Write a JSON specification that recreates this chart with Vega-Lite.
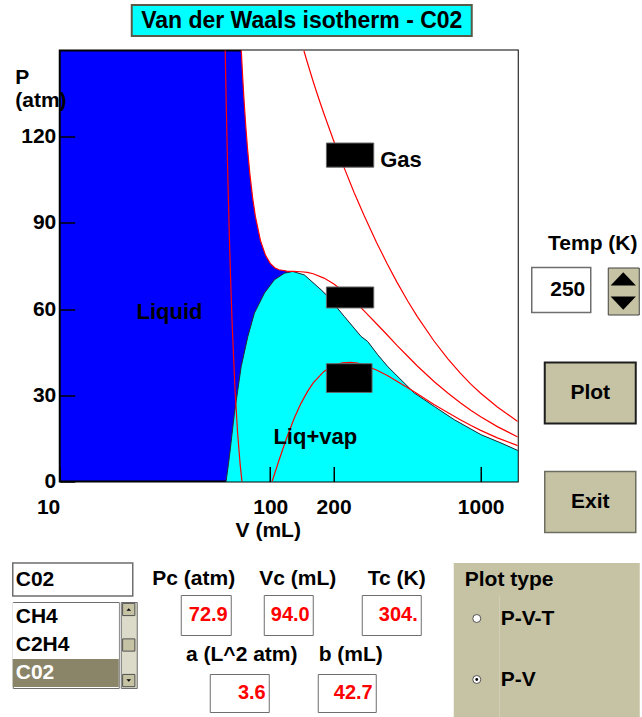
{
  "$schema": "https://vega.github.io/schema/vega-lite/v6.json",
  "padding": {"left": 11.75, "top": 4, "right": 2, "bottom": 0},
  "background": "#ffffff",
  "config": {
    "view": {"stroke": null},
    "text": {"font": "Liberation Sans", "fontWeight": "bold", "fontSize": 21, "color": "#000000"}
  },
  "datasets": {
    "iso": [
      {"T": 400, "V": 144.5, "P": 150.0}, {"T": 400, "V": 150, "P": 145.9}, {"T": 400, "V": 160, "P": 139.2}, {"T": 400, "V": 170, "P": 133.3}, {"T": 400, "V": 180, "P": 128.0}, {"T": 400, "V": 200, "P": 118.7}, {"T": 400, "V": 220, "P": 110.8}, {"T": 400, "V": 250, "P": 100.7}, {"T": 400, "V": 280, "P": 92.4}, {"T": 400, "V": 320, "P": 83.2}, {"T": 400, "V": 360, "P": 75.7}, {"T": 400, "V": 400, "P": 69.4}, {"T": 400, "V": 450, "P": 62.8}, {"T": 400, "V": 500, "P": 57.4}, {"T": 400, "V": 600, "P": 48.9}, {"T": 400, "V": 700, "P": 42.6}, {"T": 400, "V": 800, "P": 37.7}, {"T": 400, "V": 900, "P": 33.8}, {"T": 400, "V": 1000, "P": 30.7}, {"T": 400, "V": 1200, "P": 25.9}, {"T": 400, "V": 1500, "P": 20.9},
      {"T": 304, "V": 72.8, "P": 150.6}, {"T": 304, "V": 73.5, "P": 144.6}, {"T": 304, "V": 74, "P": 140.7}, {"T": 304, "V": 75, "P": 133.4}, {"T": 304, "V": 76.5, "P": 123.9}, {"T": 304, "V": 78, "P": 115.9}, {"T": 304, "V": 80, "P": 107.2}, {"T": 304, "V": 82.5, "P": 98.7}, {"T": 304, "V": 85, "P": 92.3}, {"T": 304, "V": 90, "P": 83.7}, {"T": 304, "V": 95, "P": 78.7}, {"T": 304, "V": 100, "P": 75.9}, {"T": 304, "V": 105, "P": 74.4}, {"T": 304, "V": 110, "P": 73.7}, {"T": 304, "V": 120, "P": 73.2}, {"T": 304, "V": 128, "P": 73.1}, {"T": 304, "V": 140, "P": 73.0}, {"T": 304, "V": 150, "P": 72.8}, {"T": 304, "V": 160, "P": 72.3}, {"T": 304, "V": 180, "P": 70.8}, {"T": 304, "V": 200, "P": 68.8}, {"T": 304, "V": 220, "P": 66.5}, {"T": 304, "V": 250, "P": 62.9}, {"T": 304, "V": 280, "P": 59.3}, {"T": 304, "V": 320, "P": 54.9}, {"T": 304, "V": 360, "P": 51.0}, {"T": 304, "V": 400, "P": 47.4}, {"T": 304, "V": 450, "P": 43.6}, {"T": 304, "V": 500, "P": 40.2}, {"T": 304, "V": 600, "P": 34.8}, {"T": 304, "V": 700, "P": 30.7}, {"T": 304, "V": 800, "P": 27.4}, {"T": 304, "V": 900, "P": 24.7}, {"T": 304, "V": 1000, "P": 22.5}, {"T": 304, "V": 1200, "P": 19.1}, {"T": 304, "V": 1500, "P": 15.5},
      {"T": 250, "V": 61.1, "P": 150.6}, {"T": 250, "V": 61.5, "P": 139.4}, {"T": 250, "V": 62, "P": 126.4}, {"T": 250, "V": 63, "P": 103.6}, {"T": 250, "V": 64, "P": 84.3}, {"T": 250, "V": 65, "P": 67.9}, {"T": 250, "V": 66, "P": 54.1}, {"T": 250, "V": 68, "P": 32.4}, {"T": 250, "V": 70, "P": 16.8}, {"T": 250, "V": 72, "P": 5.8}, {"T": 250, "V": 73.5, "P": -0.3}, {"T": 250, "V": 76, "P": -7.2}, {"T": 250, "V": 80, "P": -12.5}, {"T": 250, "V": 85, "P": -13.3}, {"T": 250, "V": 90, "P": -10.7}, {"T": 250, "V": 95, "P": -6.6}, {"T": 250, "V": 100, "P": -2.0}, {"T": 250, "V": 102, "P": -0.1}, {"T": 250, "V": 105, "P": 2.8}, {"T": 250, "V": 110, "P": 7.3}, {"T": 250, "V": 120, "P": 15.4}, {"T": 250, "V": 130, "P": 22.0}, {"T": 250, "V": 140, "P": 27.2}, {"T": 250, "V": 150, "P": 31.2}, {"T": 250, "V": 160, "P": 34.3}, {"T": 250, "V": 180, "P": 38.3}, {"T": 250, "V": 200, "P": 40.4}, {"T": 250, "V": 220, "P": 41.3}, {"T": 250, "V": 240, "P": 41.5}, {"T": 250, "V": 260, "P": 41.2}, {"T": 250, "V": 280, "P": 40.5}, {"T": 250, "V": 320, "P": 38.8}, {"T": 250, "V": 360, "P": 36.9}, {"T": 250, "V": 400, "P": 34.9}, {"T": 250, "V": 450, "P": 32.6}, {"T": 250, "V": 500, "P": 30.5}, {"T": 250, "V": 600, "P": 26.8}, {"T": 250, "V": 700, "P": 23.9}, {"T": 250, "V": 800, "P": 21.5}, {"T": 250, "V": 900, "P": 19.5}, {"T": 250, "V": 1000, "P": 17.8}, {"T": 250, "V": 1200, "P": 15.2}, {"T": 250, "V": 1500, "P": 12.5}
    ],
    "dome": [
      {"V": 61.7, "P": 0}, {"V": 64.0, "P": 8.7}, {"V": 67.6, "P": 23.8}, {"V": 72.8, "P": 40.0}, {"V": 78.3, "P": 50.5}, {"V": 84.1, "P": 58.6}, {"V": 93.9, "P": 65.6}, {"V": 104.7, "P": 70.2}, {"V": 116.8, "P": 72.5}, {"V": 128, "P": 73.1}, {"V": 145.3, "P": 71.9}, {"V": 174.5, "P": 66.7}, {"V": 184.3, "P": 65.0}, {"V": 217.1, "P": 58.8}, {"V": 225.1, "P": 57.4}, {"V": 270.2, "P": 50.5}, {"V": 290.7, "P": 48.7}, {"V": 324.3, "P": 44.1}, {"V": 361.7, "P": 40.0}, {"V": 483.8, "P": 30.8}, {"V": 602.6, "P": 26.1}, {"V": 749.3, "P": 21.5}, {"V": 1003, "P": 16.3}, {"V": 1249, "P": 13.4}, {"V": 1500, "P": 10.8}
    ],
    "white": [
      {"V": 72.87, "P": 150}, {"V": 73.5, "P": 144.6}, {"V": 74, "P": 140.7}, {"V": 75, "P": 133.4}, {"V": 76.5, "P": 123.9}, {"V": 78, "P": 115.9}, {"V": 80, "P": 107.2}, {"V": 82.5, "P": 98.7}, {"V": 85, "P": 92.3}, {"V": 90, "P": 83.7}, {"V": 95, "P": 78.7}, {"V": 100, "P": 75.9}, {"V": 105, "P": 74.4}, {"V": 110, "P": 73.7}, {"V": 120, "P": 73.2}, {"V": 128, "P": 73.1}, {"V": 145.3, "P": 71.9}, {"V": 174.5, "P": 66.7}, {"V": 184.3, "P": 65.0}, {"V": 217.1, "P": 58.8}, {"V": 225.1, "P": 57.4}, {"V": 270.2, "P": 50.5}, {"V": 290.7, "P": 48.7}, {"V": 324.3, "P": 44.1}, {"V": 361.7, "P": 40.0}, {"V": 483.8, "P": 30.8}, {"V": 602.6, "P": 26.1}, {"V": 749.3, "P": 21.5}, {"V": 1003, "P": 16.3}, {"V": 1249, "P": 13.4}, {"V": 1500, "P": 10.8}
    ],
    "boxes": [
      {"V": 184.9, "V2": 310.4, "P": 117.8, "P2": 109.4},
      {"V": 184.9, "V2": 310.4, "P": 67.7, "P2": 60.4},
      {"V": 184.9, "V2": 304.7, "P": 41.0, "P2": 31.0}
    ],
    "labels": [
      {"label": "Gas", "V": 418, "P": 109.6},
      {"label": "Liquid", "V": 33.2, "P": 56.5},
      {"label": "Liq+vap", "V": 163.7, "P": 13.1}
    ]
  },
  "spacing": 12.5,
  "vconcat": [
    {
      "spacing": 0,
      "hconcat": [
        {"width": 117.5, "height": 31, "data": {"values": [{}]}, "mark": {"type": "text", "fontSize": 0}, "encoding": {}},
        {"width": 340, "height": 31, "view": {"fill": "#00ffff", "stroke": "#5a5a48", "strokeWidth": 2}, "data": {"values": [{"t": "Van der Waals isotherm - C02"}]}, "mark": {"type": "text", "fontSize": 23}, "encoding": {"text": {"field": "t"}}}
      ]
    },
    {
      "spacing": 0,
      "hconcat": [
        {"width": 1, "height": 1, "data": {"values": [{}]}, "mark": {"type": "text", "fontSize": 0}, "encoding": {}},
        {
          "width": 458,
          "height": 431,
          "view": {"fill": "#0000ff", "stroke": "#000000", "strokeWidth": 2},
          "encoding": {
            "x": {"field": "V", "type": "quantitative", "scale": {"type": "log", "domain": [10, 1500], "nice": false},
              "axis": {"values": [10, 100, 200, 1000], "format": "d", "tickSize": -15, "tickColor": "#000000", "tickWidth": 1.5, "domain": false, "grid": false, "zindex": 1,
                "labelFont": "Liberation Sans", "labelFontWeight": "bold", "labelFontSize": 21, "labelColor": "#000000", "labelPadding": 30, "labelFlush": false, "labelOverlap": false,
                "labelAlign": {"condition": {"test": "datum.value == 10", "value": "right"}, "value": "center"},
                "title": "V (mL)", "titleFont": "Liberation Sans", "titleFontWeight": "bold", "titleFontSize": 21, "titleColor": "#000000", "titleX": 208, "titleY": 38, "titleAlign": "center", "titleBaseline": "top"}},
            "y": {"field": "P", "type": "quantitative", "scale": {"domain": [0, 150], "nice": false, "zero": false},
              "axis": {"values": [0, 30, 60, 90, 120], "tickSize": -15, "tickColor": "#000000", "tickWidth": 1.5, "domain": false, "grid": false, "zindex": 1,
                "labelFont": "Liberation Sans", "labelFontWeight": "bold", "labelFontSize": 21, "labelColor": "#000000", "labelPadding": 19, "labelOverlap": false, "labelFlush": false,
                "title": ["P", "(atm)"], "titleFont": "Liberation Sans", "titleFontWeight": "bold", "titleFontSize": 21, "titleColor": "#000000", "titleAngle": 0, "titleAlign": "left", "titleBaseline": "top", "titleX": -45, "titleY": 16, "titleLineHeight": 23}}
          },
          "layer": [
            {"data": {"name": "white"}, "mark": {"type": "area", "color": "#ffffff", "opacity": 1}, "encoding": {"y2": {"datum": 150}}},
            {"data": {"name": "dome"}, "mark": {"type": "area", "color": "#00ffff", "opacity": 1}, "encoding": {"y2": {"datum": 0}}},
            {"data": {"name": "dome"}, "mark": {"type": "line", "color": "#2a2a2a", "strokeWidth": 1}, "encoding": {}},
            {"data": {"name": "iso"}, "mark": {"type": "line", "color": "#ff0000", "strokeWidth": 1.2, "clip": true}, "encoding": {"detail": {"field": "T", "type": "nominal"}}},
            {"data": {"name": "boxes"}, "mark": {"type": "rect", "color": "#000000", "stroke": "#666666", "strokeWidth": 1}, "encoding": {"x2": {"field": "V2"}, "y2": {"field": "P2"}}},
            {"data": {"name": "labels"}, "mark": {"type": "text", "fontSize": 22, "baseline": "alphabetic"}, "encoding": {"text": {"field": "label"}}}
          ]
        },
        {"width": 10, "height": 1, "data": {"values": [{}]}, "mark": {"type": "text", "fontSize": 0}, "encoding": {}},
        {
          "spacing": 46,
          "vconcat": [
            {"width": 1, "height": 135.5, "data": {"values": [{}]}, "mark": {"type": "text", "fontSize": 0}, "encoding": {}},
            {
              "spacing": 12,
              "vconcat": [
                {"width": 122, "height": 22, "data": {"values": [{"t": "Temp (K)"}]}, "mark": {"type": "text"}, "encoding": {"text": {"field": "t"}}},
                {
                  "spacing": 15,
                  "hconcat": [
                    {"width": 59, "height": 45, "view": {"fill": "#ffffff", "stroke": "#6e6e6e", "strokeWidth": 1.5}, "data": {"values": [{"t": "250"}]}, "mark": {"type": "text", "align": "right", "dx": 24}, "encoding": {"text": {"field": "t"}}},
                    {"width": 31, "height": 47, "view": {"fill": "#c6c3a5", "stroke": "#404040", "strokeWidth": 1}, "data": {"values": [{"d": "up"}, {"d": "down"}]},
                      "mark": {"type": "point", "filled": true, "color": "#000000", "opacity": 1, "size": 640},
                      "encoding": {
                        "y": {"field": "d", "type": "nominal", "scale": {"domain": ["up", "down"]}, "axis": null},
                        "shape": {"field": "d", "type": "nominal", "scale": {"domain": ["up", "down"], "range": ["M-1,0.5L0,-0.55L1,0.5Z", "M-1,-0.5L0,0.55L1,-0.5Z"]}, "legend": null}
                      }}
                  ]
                }
              ]
            },
            {
              "spacing": 0,
              "hconcat": [
                {"width": 12, "height": 1, "data": {"values": [{}]}, "mark": {"type": "text", "fontSize": 0}, "encoding": {}},
                {"width": 91, "height": 61, "view": {"fill": "#c6c3a5", "stroke": "#1e1e1e", "strokeWidth": 2}, "data": {"values": [{"t": "Plot"}]}, "mark": {"type": "text"}, "encoding": {"text": {"field": "t"}}}
              ]
            },
            {
              "spacing": 0,
              "hconcat": [
                {"width": 12, "height": 1, "data": {"values": [{}]}, "mark": {"type": "text", "fontSize": 0}, "encoding": {}},
                {"width": 91, "height": 61, "view": {"fill": "#c6c3a5", "stroke": "#6d6d60", "strokeWidth": 1.5}, "data": {"values": [{"t": "Exit"}]}, "mark": {"type": "text"}, "encoding": {"text": {"field": "t"}}}
              ]
            }
          ]
        }
      ]
    },
    {
      "spacing": 0,
      "vconcat": [
        {"width": 1, "height": 7.5, "data": {"values": [{}]}, "mark": {"type": "text", "fontSize": 0}, "encoding": {}},
        {
          "spacing": 0,
          "hconcat": [
            {
              "spacing": 3,
              "vconcat": [
                {"width": 120, "height": 33, "view": {"fill": "#ffffff", "stroke": "#6e6e6e", "strokeWidth": 1.5}, "data": {"values": [{"t": "C02"}]}, "mark": {"type": "text", "align": "left", "dx": -57}, "encoding": {"text": {"field": "t"}}},
                {
                  "spacing": 0,
                  "hconcat": [
                    {"width": 106, "height": 86, "view": {"fill": "#ffffff", "stroke": "#6e6e6e", "strokeWidth": 1},
                      "data": {"values": [{"name": "CH4", "sel": false}, {"name": "C2H4", "sel": false}, {"name": "C02", "sel": true}]},
                      "encoding": {"y": {"field": "name", "type": "nominal", "sort": null, "scale": {"type": "band", "domain": ["CH4", "C2H4", "C02"], "paddingInner": 0, "paddingOuter": 0.04}, "axis": null}},
                      "layer": [
                        {"mark": {"type": "rect"}, "encoding": {"color": {"condition": {"test": "datum.sel", "value": "#8a8468"}, "value": "#ffffff"}}},
                        {"mark": {"type": "text", "align": "left", "dx": -50}, "encoding": {"text": {"field": "name"}, "color": {"condition": {"test": "datum.sel", "value": "#ffffff"}, "value": "#000000"}}}
                      ]},
                    {"width": 16, "height": 86, "view": {"fill": "#dcdac8", "stroke": "#6e6e6e", "strokeWidth": 1},
                      "data": {"values": [{"p": "up"}, {"p": "thumb"}, {"p": "down"}]},
                      "encoding": {"y": {"field": "p", "type": "nominal", "sort": null, "scale": {"type": "point", "domain": ["up", "thumb", "down"], "padding": 0.21}, "axis": null}},
                      "layer": [
                        {"mark": {"type": "point", "shape": "square", "filled": true, "color": "#c6c3a5", "stroke": "#505050", "strokeWidth": 1, "size": 150, "opacity": 1}},
                        {"transform": [{"filter": "datum.p != 'thumb'"}], "mark": {"type": "point", "filled": true, "color": "#000000", "size": 22, "opacity": 1},
                          "encoding": {"shape": {"field": "p", "type": "nominal", "scale": {"domain": ["up", "down"], "range": ["triangle-up", "triangle-down"]}, "legend": null}}}
                      ]}
                  ]
                }
              ]
            },
            {"width": 10, "height": 1, "data": {"values": [{}]}, "mark": {"type": "text", "fontSize": 0}, "encoding": {}},
            {
              "spacing": 0,
              "vconcat": [
                {
                  "spacing": 0,
                  "hconcat": [
                    {"width": 92, "height": 31, "data": {"values": [{"t": "Pc (atm)"}]}, "mark": {"type": "text"}, "encoding": {"text": {"field": "t"}}},
                    {"width": 116, "height": 31, "data": {"values": [{"t": "Vc (mL)"}]}, "mark": {"type": "text"}, "encoding": {"text": {"field": "t"}}},
                    {"width": 82, "height": 31, "data": {"values": [{"t": "Tc (K)"}]}, "mark": {"type": "text"}, "encoding": {"text": {"field": "t"}}}
                  ]
                },
                {
                  "spacing": 0,
                  "hconcat": [
                    {"width": 31.5, "height": 1, "data": {"values": [{}]}, "mark": {"type": "text", "fontSize": 0}, "encoding": {}},
                    {"width": 50, "height": 40, "view": {"fill": "#ffffff", "stroke": "#6e6e6e", "strokeWidth": 1}, "data": {"values": [{"t": "72.9"}]}, "mark": {"type": "text", "align": "right", "dx": 22, "color": "#ff0000", "fontSize": 20}, "encoding": {"text": {"field": "t"}}},
                    {"width": 31, "height": 1, "data": {"values": [{}]}, "mark": {"type": "text", "fontSize": 0}, "encoding": {}},
                    {"width": 49, "height": 40, "view": {"fill": "#ffffff", "stroke": "#6e6e6e", "strokeWidth": 1}, "data": {"values": [{"t": "94.0"}]}, "mark": {"type": "text", "align": "right", "dx": 21.5, "color": "#ff0000", "fontSize": 20}, "encoding": {"text": {"field": "t"}}},
                    {"width": 47, "height": 1, "data": {"values": [{}]}, "mark": {"type": "text", "fontSize": 0}, "encoding": {}},
                    {"width": 59, "height": 40, "view": {"fill": "#ffffff", "stroke": "#6e6e6e", "strokeWidth": 1}, "data": {"values": [{"t": "304."}]}, "mark": {"type": "text", "align": "right", "dx": 26.5, "color": "#ff0000", "fontSize": 20}, "encoding": {"text": {"field": "t"}}}
                  ]
                },
                {
                  "spacing": 0,
                  "hconcat": [
                    {"width": 34, "height": 1, "data": {"values": [{}]}, "mark": {"type": "text", "fontSize": 0}, "encoding": {}},
                    {"width": 120, "height": 37, "data": {"values": [{"t": "a (L^2 atm)"}]}, "mark": {"type": "text"}, "encoding": {"text": {"field": "t"}}},
                    {"width": 98, "height": 37, "data": {"values": [{"t": "b (mL)"}]}, "mark": {"type": "text"}, "encoding": {"text": {"field": "t"}}}
                  ]
                },
                {
                  "spacing": 0,
                  "hconcat": [
                    {"width": 60.5, "height": 1, "data": {"values": [{}]}, "mark": {"type": "text", "fontSize": 0}, "encoding": {}},
                    {"width": 59, "height": 38, "view": {"fill": "#ffffff", "stroke": "#6e6e6e", "strokeWidth": 1}, "data": {"values": [{"t": "3.6"}]}, "mark": {"type": "text", "align": "right", "dx": 26.5, "color": "#ff0000", "fontSize": 20}, "encoding": {"text": {"field": "t"}}},
                    {"width": 47, "height": 1, "data": {"values": [{}]}, "mark": {"type": "text", "fontSize": 0}, "encoding": {}},
                    {"width": 58, "height": 38, "view": {"fill": "#ffffff", "stroke": "#6e6e6e", "strokeWidth": 1}, "data": {"values": [{"t": "42.7"}]}, "mark": {"type": "text", "align": "right", "dx": 26, "color": "#ff0000", "fontSize": 20}, "encoding": {"text": {"field": "t"}}}
                  ]
                }
              ]
            },
            {"width": 16, "height": 1, "data": {"values": [{}]}, "mark": {"type": "text", "fontSize": 0}, "encoding": {}},
            {
              "spacing": 0,
              "vconcat": [
                {"width": 186, "height": 33, "view": {"fill": "#c6c3a5"}, "data": {"values": [{"t": "Plot type"}]}, "mark": {"type": "text", "align": "left", "dx": -82}, "encoding": {"text": {"field": "t"}}},
                {
                  "spacing": 0,
                  "hconcat": [
                    {"width": 46, "height": 45, "view": {"fill": "#c6c3a5"}, "data": {"values": [{"sel": false}]},
                      "mark": {"type": "point", "shape": "circle", "filled": true, "fill": "#ffffff", "stroke": "#505050", "strokeWidth": 1, "size": 64, "opacity": 1}, "encoding": {}},
                    {"width": 140, "height": 45, "view": {"fill": "#c6c3a5"}, "data": {"values": [{"t": "P-V-T"}]}, "mark": {"type": "text", "align": "left", "dx": -69}, "encoding": {"text": {"field": "t"}}}
                  ]
                },
                {
                  "spacing": 0,
                  "hconcat": [
                    {"width": 46, "height": 77, "view": {"fill": "#c6c3a5"}, "data": {"values": [{"sel": true}]},
                      "layer": [
                        {"mark": {"type": "point", "shape": "circle", "filled": true, "fill": "#ffffff", "stroke": "#505050", "strokeWidth": 1, "size": 64, "opacity": 1}, "encoding": {}},
                        {"mark": {"type": "point", "shape": "circle", "filled": true, "fill": "#000000", "size": 8, "opacity": 1}, "encoding": {}}
                      ]},
                    {"width": 140, "height": 77, "view": {"fill": "#c6c3a5"}, "data": {"values": [{"t": "P-V"}]}, "mark": {"type": "text", "align": "left", "dx": -69}, "encoding": {"text": {"field": "t"}}}
                  ]
                }
              ]
            }
          ]
        }
      ]
    }
  ]
}
